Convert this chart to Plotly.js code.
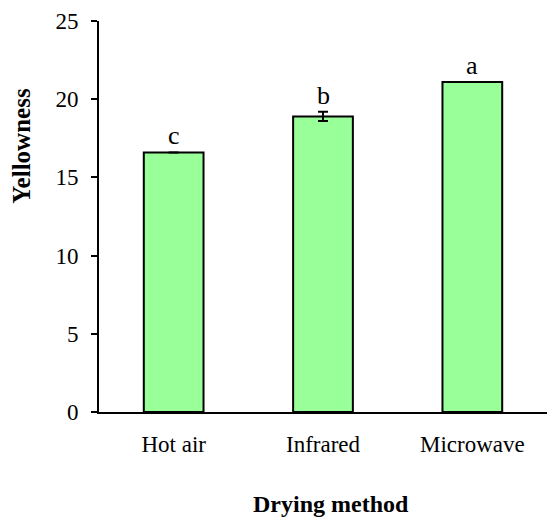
<!DOCTYPE html>
<html>
<head>
<meta charset="utf-8">
<script src="https://cdn.plot.ly/plotly-3.0.1.min.js"></script>
<style>html,body{margin:0;padding:0;background:#fff;}#chart{width:547px;height:517px;}</style>
</head>
<body>
<div id="chart"></div>
<script>
const categories = ["Hot air", "Infrared", "Microwave"];
const yellowness = [16.6, 18.9, 21.1];
const errors = [0, 0.3, 0];
const letters = ["c", "b", "a"];
const yTickValues = [0, 5, 10, 15, 20, 25];

const FONT = "'Liberation Serif', 'Times New Roman', serif";

const trace = {
  type: "bar",
  x: categories,
  y: yellowness,
  width: 0.4,
  marker: { color: "#99ff99", line: { color: "#000", width: 2 } },
  error_y: { type: "data", array: errors, visible: true, color: "#000", thickness: 2, width: 5 },
  hoverinfo: "none"
};

const annotations = categories.map((c, i) => ({
  x: c, y: yellowness[i] + errors[i], xref: "x", yref: "y",
  text: letters[i], showarrow: false, yanchor: "bottom", yshift: 0,
  font: { family: FONT, size: 26, color: "#000" }
}));
annotations.push({
  xref: "paper", yref: "paper", x: -0.172, y: 0.681, xanchor: "center", yanchor: "middle",
  text: "<b>Yellowness</b>", textangle: -90, showarrow: false,
  font: { family: FONT, size: 25, color: "#000" }
});
annotations.push({
  xref: "paper", yref: "paper", x: 0.518, y: -0.197, xanchor: "center", yanchor: "top",
  text: "<b>Drying method</b>", showarrow: false,
  font: { family: FONT, size: 24, color: "#000" }
});

const layout = {
  width: 547, height: 517,
  margin: { l: 99, r: 0, t: 21, b: 104.5, pad: 0 },
  paper_bgcolor: "#fff", plot_bgcolor: "#fff",
  showlegend: false,
  font: { family: FONT, color: "#000" },
  xaxis: {
    type: "category", range: [-0.5, 2.5],
    showline: true, linecolor: "#000", linewidth: 2,
    ticks: "", showgrid: false, zeroline: false,
    tickfont: { family: FONT, size: 23, color: "#000" },
    ticklabelstandoff: 10
  },
  yaxis: {
    range: [0, 25], tickvals: yTickValues,
    showline: true, linecolor: "#000", linewidth: 2,
    ticks: "outside", ticklen: 6, tickwidth: 2, tickcolor: "#000",
    showgrid: false, zeroline: false,
    tickfont: { family: FONT, size: 23, color: "#000" },
    ticklabelstandoff: 8
  },
  annotations: annotations
};

Plotly.newPlot("chart", [trace], layout, { displayModeBar: false, staticPlot: true });
</script>
</body>
</html>
